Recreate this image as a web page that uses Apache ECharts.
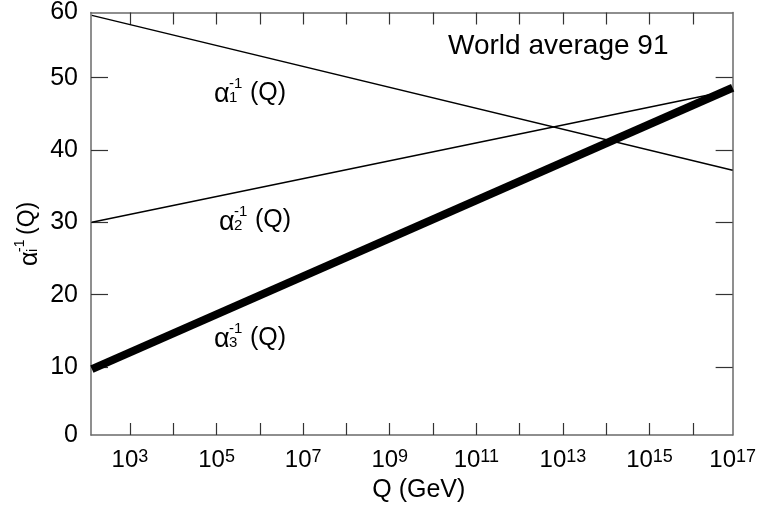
<!DOCTYPE html>
<html><head><meta charset="utf-8">
<script src="https://cdn.jsdelivr.net/npm/echarts@6/dist/echarts.min.js"></script>
<style>html,body{margin:0;padding:0;background:#fff}#c{width:759px;height:508px}</style>
</head><body><div id="c"></div>
<script>
// ---- data ----
const logQ      = [2.12, 16.92];          // log10(Q / GeV) at the line ends
const alpha1Inv = [58.6, 37.2];
const alpha2Inv = [30.0, 48.3];
const alpha3Inv = [9.7, 48.6];
const xTickDecades  = [3, 4, 5, 6, 7, 8, 9, 10, 11, 12, 13, 14, 15, 16];
const xLabelDecades = [3, 5, 7, 9, 11, 13, 15, 17];
const yTickValues   = [10, 20, 30, 40, 50];
const yLabelValues  = [0, 10, 20, 30, 40, 50, 60];
const X_MIN = 2.1, X_MAX = 16.92, Y_MIN = 0.6, Y_MAX = 59;

const FONT = "'Liberation Sans', Arial, Helvetica, sans-serif";
const clamp = (v, a, b) => Math.max(a, Math.min(b, v));

const chart = echarts.init(document.getElementById('c'), null, {renderer: 'canvas'});

function alphaLabel(sub, x, y, s, rotate) {
  return {
    type: 'group', x: x, y: y, rotation: rotate || 0, silent: true,
    children: [
      {type: 'text', x: 0, y: 0, style: {text: 'α', font: s.a + 'px ' + FONT, fill: '#000', textVerticalAlign: 'middle'}},
      {type: 'text', x: s.subDx, y: s.subDy, style: {text: sub, font: s.sc + 'px ' + FONT, fill: '#000', textVerticalAlign: 'middle'}},
      {type: 'text', x: s.subDx, y: s.supDy, style: {text: '-1', font: s.sc + 'px ' + FONT, fill: '#000', textVerticalAlign: 'middle'}},
      {type: 'text', x: s.qDx, y: s.qDy, style: {text: '(Q)', font: s.q + 'px ' + FONT, fill: '#000', textVerticalAlign: 'middle'}}
    ]
  };
}
const inPlot = {a: 27, sc: 15, q: 25, subDx: 15, subDy: 3, supDy: -11, qDx: 36, qDy: -2};
const yTitle = {a: 25, sc: 14, q: 23, subDx: 14, subDy: 3, supDy: -10, qDx: 31, qDy: -2};

const axisLineStyle = {color: '#6a6a6a', width: 1.5};
const tickStyle = {color: '#333', width: 1.2};

const option = {
  animation: false,
  backgroundColor: '#fff',
  grid: {left: 91, right: 26, top: 11.5, bottom: 73, containLabel: false},
  xAxis: [
    {
      type: 'value', min: X_MIN, max: X_MAX, position: 'bottom',
      axisLine: {show: true, onZero: false, lineStyle: axisLineStyle},
      axisTick: {show: true, inside: true, length: 12, lineStyle: tickStyle,
                 customValues: xTickDecades},
      axisLabel: {
        show: true, margin: 13, color: '#000',
        customValues: xLabelDecades.map(v => clamp(v, X_MIN, X_MAX)),
        formatter: v => '{b|10}{s|' + Math.round(v) + '}',
        rich: {
          b: {fontSize: 24, fontFamily: FONT, lineHeight: 24, color: '#000'},
          s: {fontSize: 18, fontFamily: FONT, lineHeight: 18, verticalAlign: 'top', color: '#000'}
        }
      },
      splitLine: {show: false},
      name: 'Q (GeV)', nameLocation: 'middle', nameGap: 43,
      nameTextStyle: {fontSize: 25, fontFamily: FONT, color: '#000', padding: [0, 0, 0, 14]}
    },
    {
      type: 'value', min: X_MIN, max: X_MAX, position: 'top',
      axisLine: {show: true, onZero: false, lineStyle: axisLineStyle},
      axisTick: {show: true, inside: true, length: 12, lineStyle: tickStyle,
                 customValues: xTickDecades},
      axisLabel: {show: false},
      splitLine: {show: false}
    }
  ],
  yAxis: [
    {
      type: 'value', min: Y_MIN, max: Y_MAX, position: 'left',
      axisLine: {show: true, onZero: false, lineStyle: axisLineStyle},
      axisTick: {show: true, inside: true, length: 17, lineStyle: tickStyle,
                 customValues: yTickValues},
      axisLabel: {
        show: true, margin: 13, color: '#000', fontSize: 25, fontFamily: FONT,
        customValues: yLabelValues.map(v => clamp(v, Y_MIN, Y_MAX)),
        formatter: v => String(Math.round(v / 10) * 10)
      },
      splitLine: {show: false}
    },
    {
      type: 'value', min: Y_MIN, max: Y_MAX, position: 'right',
      axisLine: {show: true, onZero: false, lineStyle: axisLineStyle},
      axisTick: {show: true, inside: true, length: 17, lineStyle: tickStyle,
                 customValues: yTickValues},
      axisLabel: {show: false},
      splitLine: {show: false}
    }
  ],
  series: [
    {name: 'alpha1', type: 'line', xAxisIndex: 0, yAxisIndex: 0, symbol: 'none', silent: true,
     data: logQ.map((x, i) => [x, alpha1Inv[i]]), lineStyle: {color: '#000', width: 1.5}},
    {name: 'alpha2', type: 'line', xAxisIndex: 0, yAxisIndex: 0, symbol: 'none', silent: true,
     data: logQ.map((x, i) => [x, alpha2Inv[i]]), lineStyle: {color: '#000', width: 1.5}},
    {name: 'alpha3', type: 'line', xAxisIndex: 0, yAxisIndex: 0, symbol: 'none', silent: true,
     data: logQ.map((x, i) => [x, alpha3Inv[i]]), lineStyle: {color: '#000', width: 8}}
  ],
  graphic: [
    {type: 'text', left: 448, top: 32, silent: true,
     style: {text: 'World average 91', font: '28px ' + FONT, fill: '#000'}},
    alphaLabel('1', 214, 95, inPlot),
    alphaLabel('2', 219, 222.5, inPlot),
    alphaLabel('3', 214, 340, inPlot),
    alphaLabel('i', 30, 266, yTitle, Math.PI / 2)
  ]
};
chart.setOption(option);
</script>
</body></html>
